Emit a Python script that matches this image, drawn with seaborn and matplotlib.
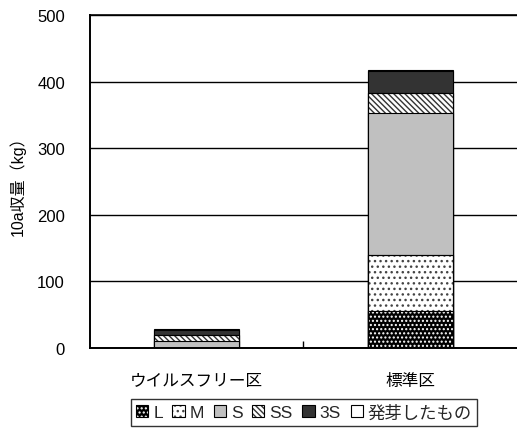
import matplotlib
matplotlib.use("Agg")
import matplotlib.pyplot as plt
from matplotlib.patches import Patch
from matplotlib.legend_handler import HandlerTuple
import numpy as np
import pandas as pd
import seaborn as sns

# 収量データ (kg/10a)
categories = ["ウイルスフリー区", "標準区"]
yield_L = [0, 56]
yield_M = [0, 83]
yield_S = [10, 214]
yield_SS = [10, 30]
yield_3S = [7, 33]
yield_sprout = [1, 1]
series_names = ["L", "M", "S", "SS", "3S", "発芽したもの"]
y_ticks = [0, 100, 200, 300, 400, 500]

sns.set_theme(style="white")
plt.rcParams["font.family"] = ["Liberation Sans", "Noto Sans CJK JP"]
plt.rcParams["hatch.linewidth"] = 1.0

series = [yield_L, yield_M, yield_S, yield_SS, yield_3S, yield_sprout]
cum = np.cumsum(np.array(series, dtype=float), axis=0)
df = pd.DataFrame({"区": categories})
for name, c in zip(series_names, cum):
    df[name] = c

# 塗り・ハッチの設定 (face, hatch, hatch color)
styles = {
    "L": ("black", "....", "white"),
    "M": ("white", "...", "#444444"),
    "S": ("#c0c0c0", None, None),
    "SS": ("white", "\\\\\\\\\\\\", "#333333"),
    "3S": ("#333333", None, None),
    "発芽したもの": ("white", None, None),
}

fig = plt.figure(figsize=(5.17, 4.35), dpi=100)
ax = fig.add_axes([0.174, 0.198, 0.826, 0.765])

# 上の区分から順に累積値で重ね描き
for name in reversed(series_names):
    face, hatch, hcol = styles[name]
    sns.barplot(data=df, x="区", y=name, color=face, saturation=1,
                width=0.4, edgecolor="black", linewidth=0.8,
                errorbar=None, ax=ax, zorder=2)
    if hatch is not None:
        n_before = len(ax.patches)
        sns.barplot(data=df, x="区", y=name, color=hcol, fill=False,
                    width=0.4, linewidth=0, errorbar=None, ax=ax, zorder=2)
        for p in ax.patches[n_before:]:
            p.set_hatch(hatch)
            p.set_edgecolor(hcol)
            p.set_linewidth(0)
        # 枠線を上から描き直す
        sns.barplot(data=df, x="区", y=name, color="black", fill=False,
                    width=0.4, linewidth=0.8, errorbar=None, ax=ax, zorder=2)

ax.set_xlim(-0.5, 1.5)
ax.set_ylim(0, 500)
ax.set_yticks(y_ticks)
ax.yaxis.grid(True, color="black", linewidth=1.0, zorder=0)
ax.set_axisbelow(True)

for side in ["left", "bottom"]:
    ax.spines[side].set_color("black")
    ax.spines[side].set_linewidth(1.4)
ax.spines["top"].set_color("black")
ax.spines["top"].set_linewidth(1.2)
ax.spines["right"].set_visible(False)

ax.tick_params(axis="y", length=0, pad=18, labelsize=12, labelcolor="black")
ax.tick_params(axis="x", which="major", length=0, pad=18, labelsize=12,
               labelcolor="black")
ax.set_xticks([0.5], minor=True)
ax.tick_params(axis="x", which="minor", direction="in", length=5,
               width=1.0, color="black", bottom=True)

ax.set_xlabel("")
ax.set_ylabel("10a収量（kg）", fontsize=11.5, color="black", labelpad=8)

# 凡例
handles = []
for name in series_names:
    face, hatch, hcol = styles[name]
    if hatch is None:
        handles.append(Patch(facecolor=face, edgecolor="black", linewidth=0.8))
    else:
        handles.append((
            Patch(facecolor=face, edgecolor=face, linewidth=0),
            Patch(facecolor="none", edgecolor=hcol, hatch=hatch, linewidth=0),
            Patch(facecolor="none", edgecolor="black", linewidth=0.8),
        ))
leg = fig.legend(handles, series_names, loc="center", ncol=6,
                 bbox_to_anchor=(0.588, 0.05), frameon=True, fancybox=False,
                 edgecolor="black", fontsize=12.5, handlelength=0.7,
                 handleheight=0.7, handletextpad=0.3, columnspacing=0.55,
                 borderpad=0.3,
                 handler_map={tuple: HandlerTuple(ndivide=1, pad=0)})
leg.get_frame().set_linewidth(1.0)

fig.savefig("out.png", dpi=100)
